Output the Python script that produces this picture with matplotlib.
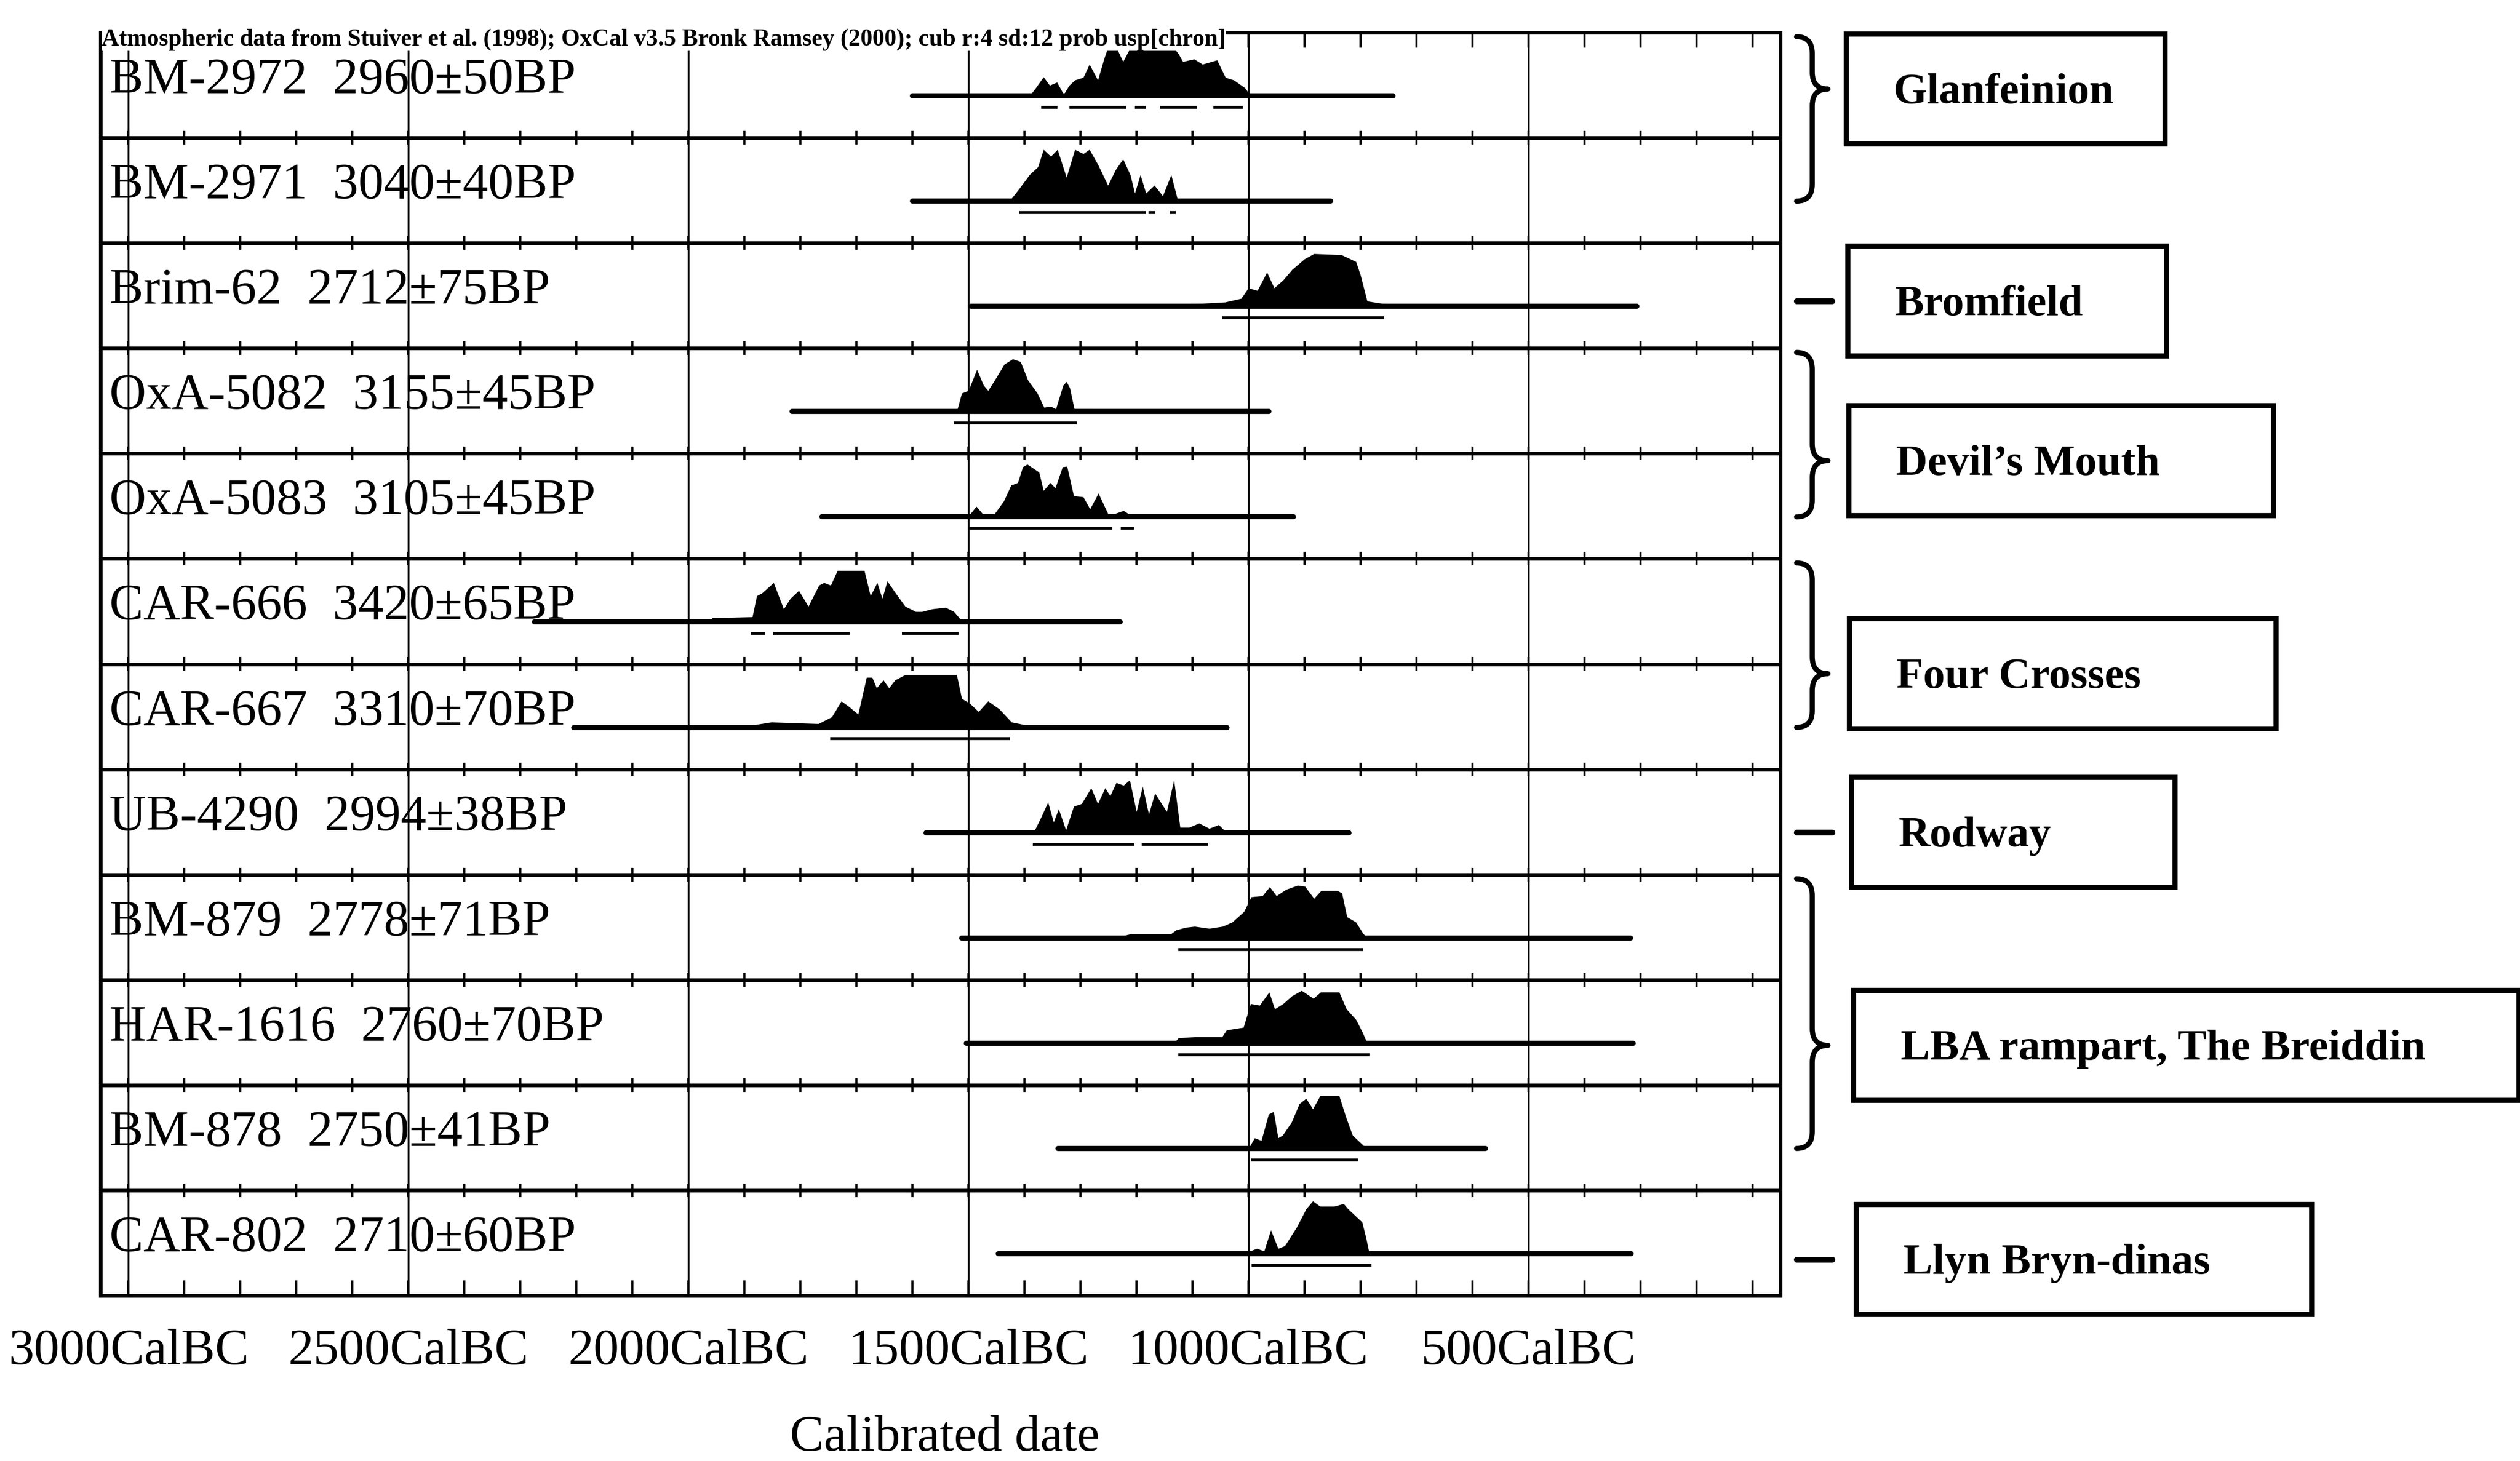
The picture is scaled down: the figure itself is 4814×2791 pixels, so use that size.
import numpy as np
import matplotlib
matplotlib.use('Agg')
import matplotlib.pyplot as plt
from matplotlib.patches import Rectangle, PathPatch
from matplotlib.path import Path

plt.rcParams['font.family'] = ['Liberation Serif', 'DejaVu Serif']

# ── Data (years cal BC) ─────────────────────────────────────────────────────
labels = ['BM-2972  2960±50BP', 'BM-2971  3040±40BP', 'Brim-62  2712±75BP',
          'OxA-5082  3155±45BP', 'OxA-5083  3105±45BP', 'CAR-666  3420±65BP',
          'CAR-667  3310±70BP', 'UB-4290  2994±38BP', 'BM-879  2778±71BP',
          'HAR-1616  2760±70BP', 'BM-878  2750±41BP', 'CAR-802  2710±60BP']

# extent of the thin calibration line under each distribution
line_from = [1600, 1600, 1495, 1815, 1762, 2275, 2205, 1576, 1512, 1504, 1340, 1447]
line_to   = [742, 853, 306, 963, 919, 1229, 1038, 820, 317, 313, 576, 316]

# probability distributions (year BC, relative probability)
bm2972_bc = [1391, 1380, 1366, 1355, 1342, 1330, 1320, 1310, 1295, 1284, 1269, 1258, 1249,
             1235, 1224, 1209, 1188, 1168, 1153, 1138, 1125, 1117, 1097, 1082, 1056, 1041,
             1026, 1006, 996]
bm2972_p  = [0, 0.15, 0.36, 0.2, 0.26, 0.03, 0.2, 0.3, 0.35, 0.6, 0.3, 0.7, 0.98,
             0.9, 0.65, 0.95, 1.0, 0.95, 0.93, 0.98, 0.8, 0.65, 0.7, 0.6, 0.68, 0.35,
             0.3, 0.15, 0]

bm2971_bc = [1427, 1412, 1391, 1376, 1366, 1353, 1341, 1325, 1310, 1295, 1284, 1269, 1251,
             1237, 1224, 1211, 1203, 1193, 1183, 1168, 1153, 1138, 1127, 1123]
bm2971_p  = [0, 0.2, 0.5, 0.65, 0.98, 0.85, 0.98, 0.45, 0.98, 0.9, 0.98, 0.7, 0.3,
             0.6, 0.8, 0.5, 0.15, 0.5, 0.15, 0.3, 0.1, 0.5, 0.05, 0]

brim62_bc = [1240, 1226, 1093, 1042, 1013, 1000, 984, 967, 954, 938, 922, 900, 883, 834,
             808, 800, 788, 758, 725]
brim62_p  = [0, 0.03, 0.05, 0.08, 0.15, 0.35, 0.3, 0.65, 0.35, 0.5, 0.7, 0.9, 1.0, 0.98,
             0.85, 0.6, 0.1, 0.05, 0]

oxa5082_bc = [1521, 1512, 1500, 1485, 1473, 1465, 1453, 1436, 1421, 1407, 1394, 1377, 1365,
              1353, 1344, 1331, 1325, 1319, 1311, 1280, 1265]
oxa5082_p  = [0, 0.35, 0.4, 0.8, 0.5, 0.4, 0.6, 0.9, 1.0, 0.95, 0.6, 0.35, 0.08,
              0.1, 0.05, 0.5, 0.57, 0.45, 0.05, 0.05, 0]

oxa5083_bc = [1501, 1486, 1474, 1454, 1437, 1424, 1412, 1403, 1395, 1374, 1366, 1354, 1345,
              1332, 1324, 1312, 1295, 1283, 1268, 1257, 1249, 1223, 1206]
oxa5083_p  = [0, 0.2, 0.05, 0.05, 0.3, 0.6, 0.65, 0.95, 1.0, 0.85, 0.5, 0.65, 0.55,
              0.95, 0.96, 0.4, 0.38, 0.15, 0.45, 0.2, 0.02, 0.12, 0]

car666_bc = [1960, 1958, 1886, 1878, 1869, 1848, 1839, 1830, 1818, 1803, 1786, 1767, 1758,
             1746, 1734, 1686, 1675, 1663, 1654, 1645, 1630, 1613, 1594, 1583, 1565, 1541,
             1526, 1514, 1505]
car666_p  = [0, 0.08, 0.1, 0.5, 0.55, 0.75, 0.5, 0.25, 0.45, 0.6, 0.3, 0.7, 0.75,
             0.7, 0.98, 0.98, 0.5, 0.75, 0.45, 0.78, 0.55, 0.3, 0.2, 0.2, 0.25, 0.28,
             0.2, 0.05, 0]

car667_bc = [1890, 1882, 1852, 1768, 1744, 1727, 1714, 1697, 1682, 1672, 1664, 1652, 1642,
             1631, 1613, 1521, 1512, 1497, 1482, 1465, 1445, 1423, 1400, 1355, 1311, 1300]
car667_p  = [0, 0.05, 0.1, 0.07, 0.2, 0.5, 0.4, 0.25, 0.95, 0.95, 0.75, 0.9, 0.75,
             0.9, 1.0, 1.0, 0.55, 0.45, 0.3, 0.5, 0.35, 0.1, 0.05, 0.05, 0.03, 0]

ub4290_bc = [1390, 1383, 1370, 1358, 1348, 1339, 1326, 1312, 1298, 1281, 1269, 1256, 1247,
             1236, 1223, 1212, 1200, 1189, 1178, 1167, 1146, 1133, 1122, 1106, 1088, 1070,
             1053, 1039]
ub4290_p  = [0, 0.02, 0.3, 0.58, 0.2, 0.45, 0.05, 0.5, 0.55, 0.85, 0.55, 0.85, 0.7,
             0.95, 0.9, 1.0, 0.4, 0.88, 0.35, 0.75, 0.4, 1.0, 0.1, 0.1, 0.18, 0.08,
             0.15, 0]

bm879_bc = [1300, 1224, 1209, 1138, 1129, 1112, 1096, 1070, 1046, 1029, 1008, 995, 975,
            962, 950, 933, 912, 899, 883, 870, 841, 833, 824, 808, 795, 787]
bm879_p  = [0, 0.04, 0.08, 0.08, 0.15, 0.2, 0.22, 0.18, 0.22, 0.3, 0.5, 0.78, 0.8,
            0.97, 0.8, 0.92, 1.0, 0.98, 0.75, 0.9, 0.9, 0.85, 0.4, 0.3, 0.08, 0]

har1616_bc = [1260, 1197, 1130, 1125, 1096, 1047, 1039, 1009, 996, 980, 963, 953, 938,
              922, 905, 884, 871, 838, 825, 808, 796, 788]
har1616_p  = [0, 0.04, 0.04, 0.1, 0.12, 0.12, 0.25, 0.3, 0.75, 0.72, 0.97, 0.65, 0.75,
              0.9, 1.0, 0.85, 0.97, 0.97, 0.65, 0.45, 0.2, 0]

bm878_bc = [1000, 997, 989, 977, 964, 955, 947, 939, 923, 909, 897, 885, 872, 838, 826,
            814, 797, 789]
bm878_p  = [0, 0.05, 0.2, 0.15, 0.65, 0.7, 0.2, 0.25, 0.5, 0.85, 0.95, 0.75, 1.0, 1.0, 0.6,
            0.25, 0.08, 0]

car802_bc = [1000, 997, 985, 972, 960, 947, 935, 914, 897, 885, 872, 847, 830, 822, 797,
             790, 784]
car802_p  = [0, 0.05, 0.1, 0.05, 0.45, 0.1, 0.15, 0.5, 0.85, 1.0, 0.9, 0.9, 0.95, 0.85, 0.6,
             0.3, 0]

dist_bc = [bm2972_bc, bm2971_bc, brim62_bc, oxa5082_bc, oxa5083_bc, car666_bc,
           car667_bc, ub4290_bc, bm879_bc, har1616_bc, bm878_bc, car802_bc]
dist_p  = [bm2972_p, bm2971_p, brim62_p, oxa5082_p, oxa5083_p, car666_p,
           car667_p, ub4290_p, bm879_p, har1616_p, bm878_p, car802_p]

# calibrated ranges drawn under each distribution (from, to) in years BC
ranges = [
    [(1370, 1341), (1320, 1219), (1203, 1183), (1158, 1092), (1062, 1010)],
    [(1409, 1183), (1178, 1166), (1140, 1130)],
    [(1047, 758)],
    [(1526, 1306)],
    [(1499, 1243), (1228, 1205)],
    [(1888, 1863), (1849, 1712), (1619, 1518)],
    [(1747, 1426)],
    [(1385, 1204), (1191, 1072)],
    [(1125, 795)],
    [(1125, 784)],
    [(995, 804)],
    [(994, 780)],
]

major_bc = [3000, 2500, 2000, 1500, 1000, 500]
tick_labels = ['3000CalBC', '2500CalBC', '2000CalBC', '1500CalBC', '1000CalBC', '500CalBC']
minor_bc = list(range(3000, 0, -100))

header = ('Atmospheric data from Stuiver et al. (1998); OxCal v3.5 Bronk Ramsey (2000); '
          'cub r:4 sd:12 prob usp[chron]')

groups = ['Glanfeinion', 'Bromfield', 'Devil\u2019s Mouth', 'Four Crosses', 'Rodway',
          'LBA rampart, The Breiddin', 'Llyn Bryn-dinas']
group_rows = [(0, 1), (2, 2), (3, 4), (5, 6), (7, 7), (8, 10), (11, 11)]

# ── Layout (figure pixels) ─────────────────────────────────────────────────
W, H, DPI = 4814, 2791, 100
AX_L, AX_R, AX_T, AX_B = 192, 3401, 62, 2475
box_left  = [3527, 3530, 3532, 3533, 3537, 3541, 3546]
box_right = [4136, 4139, 4343, 4348, 4155, 4812, 4416]
box_yc    = [170, 575, 880, 1287, 1590, 1997, 2406]
BOX_H = 210

BASE, PEAK, BAR, TXT = 0.602, 0.50, 0.711, 0.577

fig = plt.figure(figsize=(W / DPI, H / DPI), dpi=DPI, facecolor='white')
ax = fig.add_axes([AX_L / W, 1 - AX_B / H, (AX_R - AX_L) / W, (AX_B - AX_T) / H])
n = len(labels)
ax.set_xlim(-3050, -50)
ax.set_ylim(n, 0)

# grid and row separators
ax.vlines([-b for b in major_bc], 0, n, color='black', lw=2.5, zorder=1)
ax.hlines(np.arange(1, n), -3050, -50, color='black', lw=5, zorder=2)
for y in range(1, n):
    ax.vlines([-b for b in minor_bc], y - 0.065, y + 0.065, color='black', lw=3, zorder=2)

for i in range(n):
    x = -np.array(dist_bc[i], dtype=float)
    p = np.array(dist_p[i], dtype=float)
    ax.fill_between(x, i + BASE, i + BASE - PEAK * p, color='black', lw=0, zorder=3)
    ax.plot([-line_from[i], -line_to[i]], [i + BASE] * 2, color='black', lw=7,
            solid_capstyle='round', zorder=3)
    for a, b in ranges[i]:
        ax.plot([-a, -b], [i + BAR] * 2, color='black', lw=4, solid_capstyle='butt', zorder=3)
    ax.text(-3034, i + TXT, labels[i], fontsize=70, ha='left', va='baseline', zorder=4)

ax.set_xticks([-b for b in major_bc])
ax.set_xticklabels(tick_labels)
ax.set_xticks([-b for b in minor_bc], minor=True)
ax.tick_params(axis='x', which='both', direction='in', top=True, bottom=True,
               length=21, width=3, labelsize=70, pad=46)
ax.tick_params(axis='y', left=False, labelleft=False)
for s in ax.spines.values():
    s.set_linewidth(5)

ax.set_xlabel('Calibrated date', fontsize=70)
ax.xaxis.set_label_coords((1805 - AX_L) / (AX_R - AX_L), (AX_B - 2703) / (AX_B - AX_T))

ax.text(-3048, 0.124, header, fontsize=33, fontweight='bold', ha='left', va='baseline',
        zorder=5, bbox=dict(facecolor='white', edgecolor='none', pad=0))

# ── Group annotations on the right ─────────────────────────────────────────
lay = fig.add_axes([0, 0, 1, 1])
lay.set_xlim(0, W)
lay.set_ylim(H, 0)
lay.axis('off')

row_h = (AX_B - AX_T) / n


def brace(y0, y1, ytip, x0=3432, xm=3462, xt=3492, r=32):
    verts = [(x0, y0), (xm, y0), (xm, y0 + r),
             (xm, ytip - r), (xm, ytip), (xt, ytip),
             (xm, ytip), (xm, ytip + r),
             (xm, y1 - r), (xm, y1), (x0, y1)]
    codes = [Path.MOVETO, Path.CURVE3, Path.CURVE3,
             Path.LINETO, Path.CURVE3, Path.CURVE3,
             Path.CURVE3, Path.CURVE3,
             Path.LINETO, Path.CURVE3, Path.CURVE3]
    return PathPatch(Path(verts, codes), fill=False, lw=7, edgecolor='black',
                     capstyle='round', joinstyle='round')


for g, (r0, r1) in enumerate(group_rows):
    yc = box_yc[g]
    if r0 == r1:
        lay.plot([3432, 3500], [yc, yc], color='black', lw=8, solid_capstyle='round')
    else:
        top = AX_T + r0 * row_h + 8
        bot = AX_T + (r1 + 1) * row_h - 80
        lay.add_patch(brace(top, bot, yc))
    lay.add_patch(Rectangle((box_left[g], yc - BOX_H / 2), box_right[g] - box_left[g], BOX_H,
                            fill=False, lw=7, edgecolor='black'))
    lay.text(box_left[g] + 90, yc + 27, groups[g], fontsize=60, fontweight='bold',
             ha='left', va='baseline')

fig.savefig('out.png', dpi=DPI, facecolor='white')
